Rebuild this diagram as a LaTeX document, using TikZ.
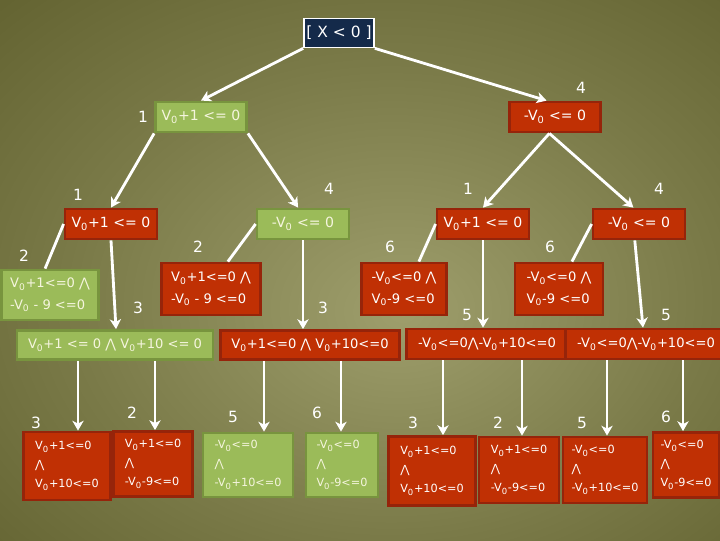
\documentclass[tikz,border=0pt]{standalone}
\usepackage{fontspec}
\setmainfont{DejaVu Sans}
\usetikzlibrary{arrows.meta,calc,positioning}
\definecolor{navybox}{RGB}{20,42,74}
\definecolor{redfill}{RGB}{192,48,4}
\definecolor{redline}{RGB}{150,36,10}
\definecolor{greenfill}{RGB}{155,187,89}
\definecolor{greenline}{RGB}{120,148,62}
\definecolor{greentext}{RGB}{245,245,222}
\definecolor{bgin}{RGB}{158,158,108}
\definecolor{bgmid}{RGB}{122,122,72}
\definecolor{bgedge}{RGB}{82,82,32}
\definecolor{bgout}{RGB}{62,62,18}
\pgfdeclareradialshading{olive}{\pgfpoint{3bp}{-4bp}}{color(0bp)=(bgin); color(22bp)=(bgmid); color(50bp)=(bgedge); color(72bp)=(bgout)}
\newcommand\Vz{V\textsubscript{0}}
\newcommand\wedgeop{⋀}
\tikzset{
  redbox/.style={
    draw = redline,
    fill = redfill,
    line width = 2pt,
    text = white,
    inner sep = 0pt,
    align = left
  },
  greenbox/.style={
    draw = greenline,
    fill = greenfill,
    line width = 2pt,
    text = greentext,
    inner sep = 0pt,
    align = left
  },
  dims/.style 2 args={
    minimum width = #1*0.025cm,
    minimum height = #2*0.025cm
  },
  topfont/.style={font = \fontsize{10}{12}\selectfont},
  midfont/.style={font = \fontsize{9.3}{15.5}\selectfont},
  leaffont/.style={font = \fontsize{8}{13.5}\selectfont},
  num/.style={
    text = white,
    inner sep = 0pt,
    font = \fontsize{11}{13}\selectfont
  },
  arr/.style={
    draw = white,
    line width = 2pt,
    -{Stealth[length=7pt,width=8pt,inset=2pt]}
  },
  twig/.style={
    draw = white,
    line width = 2pt
  },
}
\begin{document}
\begin{tikzpicture}[x=0.025cm,y=-0.025cm]
\shade[shading=olive] (0,0) rectangle (720,540);
\useasboundingbox (0,0) rectangle (720,540);
\node[draw=white, fill=navybox, line width=1.2pt, text=white, inner sep=0pt, dims={70}{29}, font=\fontsize{11}{13}\selectfont] (root) at (339,33) {[ X < 0 ]};
\node[greenbox, topfont, dims={91}{30}] (g1) at (201,117) {\Vz+1 <= 0};
\node[redbox, topfont, dims={91}{30}] (r1) at (555,117) {-\Vz{} <= 0};
\node[redbox, topfont, dims={92}{30}] (a) at (111,224) {\Vz+1 <= 0};
\node[greenbox, topfont, dims={92}{30}] (b) at (303,224) {-\Vz{} <= 0};
\node[redbox, topfont, dims={92}{30}] (c) at (483,224) {\Vz+1 <= 0};
\node[redbox, topfont, dims={92}{30}] (d) at (639,224) {-\Vz{} <= 0};
\node[greenbox, midfont, dims={97}{50}] (e) at (50,295) {\Vz+1<=0 \wedgeop\\-\Vz{} - 9 <=0};
\node[redbox, midfont, dims={99}{52}] (f) at (211,289) {\Vz+1<=0 \wedgeop\\-\Vz{} - 9 <=0};
\node[redbox, midfont, dims={85}{52}] (g) at (404,289) {-\Vz<=0 \wedgeop\\\Vz-9 <=0};
\node[redbox, midfont, dims={88}{52}] (h) at (559,289) {-\Vz<=0 \wedgeop\\\Vz-9 <=0};
\node[greenbox, midfont, dims={196}{29}] (w1) at (115,345) {\Vz+1 <= 0 \wedgeop{} \Vz+10 <= 0};
\node[redbox, midfont, dims={179}{29}] (w2) at (310,345) {\Vz+1<=0 \wedgeop{} \Vz+10<=0};
\node[redbox, midfont, dims={161}{30}] (w3) at (487,344) {-\Vz<=0\wedgeop-\Vz+10<=0};
\node[redbox, midfont, dims={161}{30}] (w4) at (646,344) {-\Vz<=0\wedgeop-\Vz+10<=0};
\node[redbox, leaffont, dims={87}{68}] (p1) at (67,466) {\Vz+1<=0\\\wedgeop\\\Vz+10<=0};
\node[redbox, leaffont, dims={79}{65}] (p2) at (153,464) {\Vz+1<=0\\\wedgeop\\-\Vz-9<=0};
\node[greenbox, leaffont, dims={90}{64}] (p3) at (248,465) {-\Vz<=0\\\wedgeop\\-\Vz+10<=0};
\node[greenbox, leaffont, dims={72}{64}] (p4) at (342,465) {-\Vz<=0\\\wedgeop\\\Vz-9<=0};
\node[redbox, leaffont, dims={87}{69}] (p5) at (432,471) {\Vz+1<=0\\\wedgeop\\\Vz+10<=0};
\node[redbox, leaffont, dims={80}{66}] (p6) at (519,470) {\Vz+1<=0\\\wedgeop\\-\Vz-9<=0};
\node[redbox, leaffont, dims={84}{66}] (p7) at (605,470) {-\Vz<=0\\\wedgeop\\-\Vz+10<=0};
\node[redbox, leaffont, dims={66}{65}] (p8) at (686,465) {-\Vz<=0\\\wedgeop\\\Vz-9<=0};
\foreach \nm/\x/\y/\t in {k1/143/117/1, k2/581/88/4,
  k3/78/195/1, k4/329/189/4, k5/468/189/1, k6/659/189/4,
  k7/24/256/2, k8/198/247/2, k9/390/247/6, k10/550/247/6,
  k11/138/308/3, k12/323/308/3, k13/467/315/5, k14/666/315/5,
  k15/36/423/3, k16/132/413/2, k17/233/417/5, k18/317/413/6,
  k19/413/423/3, k20/498/423/2, k21/582/423/5, k22/666/417/6}
  \node[num] (\nm) at (\x,\y) {\t};
\draw[arr] (root.south west) -- (g1.north);
\draw[arr] (root.south east) -- ([xshift=-6pt]r1.north);
\draw[arr] (g1.south west) -- (a.north);
\draw[arr] (g1.south east) -- ([xshift=-3.5pt]b.north);
\draw[arr] ([xshift=-4pt]r1.south) -- (c.north);
\draw[arr] ([xshift=-4pt]r1.south) -- ([xshift=-4pt]d.north);
\draw[arr] (a.south) -- ($(a.south |- w1.north)+(5,0)$);
\draw[arr] (b.south) -- (b.south |- w2.north);
\draw[arr] (c.south) -- (c.south |- w3.north);
\draw[arr] ([xshift=-3pt]d.south) -- ($(d.south |- w4.north)+(4,0)$);
\draw[twig] (a.west) -- ([xshift=-3.5pt]e.north);
\draw[twig] (b.west) -- ([xshift=12pt]f.north);
\draw[twig] (c.west) -- ([xshift=10.6pt]g.north);
\draw[twig] (d.west) -- ([xshift=9.2pt]h.north);
\foreach \p/\w/\dx in {p1/w1/11, p2/w1/2, p3/w2/16, p4/w2/-1,
  p5/w3/11, p6/w3/3, p7/w4/2, p8/w4/-3}
  \draw[arr] ($(\p.north |- \w.south)+(\dx,0)$) -- ($(\p.north)+(\dx,0)$);
\end{tikzpicture}
\end{document}
